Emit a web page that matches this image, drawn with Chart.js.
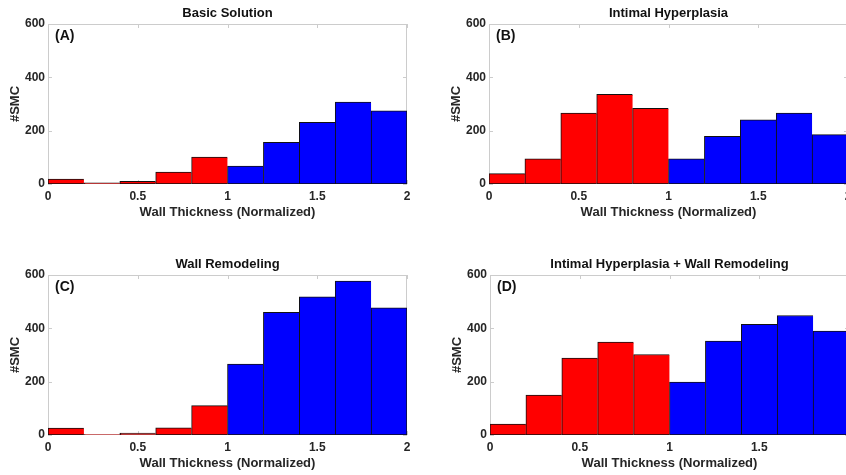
<!DOCTYPE html>
<html>
<head>
<meta charset="utf-8">
<script src="https://cdn.jsdelivr.net/npm/chart.js@4"></script>
<style>
  html, body { margin: 0; padding: 0; background: #fff; overflow: hidden; width: 846px; height: 475px; }
  canvas { position: absolute; }
</style>
</head>
<body>
<canvas id="chartA" width="420" height="230" style="left:0;top:0"></canvas>
<canvas id="chartB" width="420" height="230" style="left:441px;top:0"></canvas>
<canvas id="chartC" width="420" height="230" style="left:0;top:251px"></canvas>
<canvas id="chartD" width="420" height="230" style="left:442px;top:251px"></canvas>
<script>
// histogram bins (centres of 0.2 wide bins from 0 to 2)
const binCenters = [0.1, 0.3, 0.5, 0.7, 0.9, 1.1, 1.3, 1.5, 1.7, 1.9];

// #SMC per bin
const basicSolution      = [18, 4, 10, 45, 101, 67, 156, 231, 307, 274];
const intimalHyperplasia = [39, 94, 266, 336, 284, 94, 179, 241, 266, 185];
const wallRemodeling     = [26, 2, 7, 27, 110, 266, 460, 518, 577, 477];
const ihPlusRemodeling   = [41, 150, 288, 348, 302, 198, 352, 415, 448, 390];

const panelTitles = ['Basic Solution', 'Intimal Hyperplasia', 'Wall Remodeling', 'Intimal Hyperplasia + Wall Remodeling'];
const panelTags = ['(A)', '(B)', '(C)', '(D)'];
const xTicks = [0, 0.5, 1, 1.5, 2];
const yTicks = [0, 200, 400, 600];
const xTitle = 'Wall Thickness (Normalized)';
const yTitle = '#SMC';

Chart.defaults.font.family = '"Liberation Sans", Arial, sans-serif';
Chart.defaults.font.size = 12;
Chart.defaults.font.weight = 'bold';
Chart.defaults.color = '#262626';

// matlab style light box with inward ticks
const axesBox = {
  id: 'axesBox',
  beforeDatasetsDraw(chart) {
    const {ctx, chartArea: a, scales} = chart;
    ctx.save();
    ctx.strokeStyle = '#cccccc';
    ctx.lineWidth = 1;
    ctx.strokeRect(Math.round(a.left) + 0.5, Math.round(a.top) + 0.5, Math.round(a.width) - 1, Math.round(a.height) - 1);
    ctx.beginPath();
    scales.x.ticks.forEach(t => {
      const px = Math.round(scales.x.getPixelForValue(t.value)) + 0.5;
      ctx.moveTo(px, a.bottom); ctx.lineTo(px, a.bottom - 4);
      ctx.moveTo(px, a.top); ctx.lineTo(px, a.top + 4);
    });
    scales.y.ticks.forEach(t => {
      const py = Math.round(scales.y.getPixelForValue(t.value)) + 0.5;
      ctx.moveTo(a.left, py); ctx.lineTo(a.left + 4, py);
      ctx.moveTo(a.right, py); ctx.lineTo(a.right - 4, py);
    });
    ctx.stroke();
    ctx.restore();
  }
};

const panelTag = {
  id: 'panelTag',
  afterDraw(chart, args, opts) {
    const {ctx, chartArea} = chart;
    ctx.save();
    ctx.font = 'bold 14px "Liberation Sans", Arial, sans-serif';
    ctx.fillStyle = '#111';
    ctx.textBaseline = 'middle';
    ctx.fillText(opts.text, chartArea.left + 7, chartArea.top + 12);
    ctx.restore();
  }
};

function makeHist(id, values, title, tag) {
  return new Chart(document.getElementById(id), {
    type: 'bar',
    data: {
      datasets: [{
        data: values.map((v, i) => ({x: binCenters[i], y: v})),
        backgroundColor: c => (c.raw && c.raw.x < 1 ? '#ff0000' : '#0000ff'),
        borderColor: '#111',
        borderWidth: c => ({top: 1, left: 1, bottom: 1, right: c.dataIndex === values.length - 1 ? 1 : 0}),
        borderSkipped: false,
        barPercentage: 1,
        categoryPercentage: 1
      }]
    },
    options: {
      responsive: false,
      animation: false,
      layout: {padding: {left: 0, right: 13, top: 0, bottom: 0}},
      plugins: {
        legend: {display: false},
        tooltip: {enabled: false},
        title: {display: true, text: title, fullSize: false, color: '#111',
                font: {size: 13, weight: 'bold'}, padding: {top: 6, bottom: 2.4}},
        panelTag: {text: tag}
      },
      scales: {
        x: {
          type: 'linear', min: 0, max: 2, offset: false,
          grid: {display: false, offset: false, drawTicks: false},
          border: {display: false},
          afterBuildTicks: s => { s.ticks = xTicks.map(v => ({value: v})); },
          ticks: {padding: 5, maxRotation: 0, autoSkip: false, callback: v => String(v)},
          title: {display: true, text: xTitle, font: {size: 13, weight: 'bold'}, padding: {top: 0, bottom: 10}},
          afterFit: s => { s.height = 46; }
        },
        y: {
          min: 0, max: 600,
          grid: {display: false, drawTicks: false},
          border: {display: false},
          afterBuildTicks: s => { s.ticks = yTicks.map(v => ({value: v})); },
          ticks: {padding: 3, callback: v => String(v)},
          title: {display: true, text: yTitle, font: {size: 13, weight: 'bold'}, padding: {top: 8, bottom: 0}},
          afterFit: s => { s.width = 48; }
        }
      }
    },
    plugins: [axesBox, panelTag]
  });
}

makeHist('chartA', basicSolution, panelTitles[0], panelTags[0]);
makeHist('chartB', intimalHyperplasia, panelTitles[1], panelTags[1]);
makeHist('chartC', wallRemodeling, panelTitles[2], panelTags[2]);
makeHist('chartD', ihPlusRemodeling, panelTitles[3], panelTags[3]);
</script>
</body>
</html>
